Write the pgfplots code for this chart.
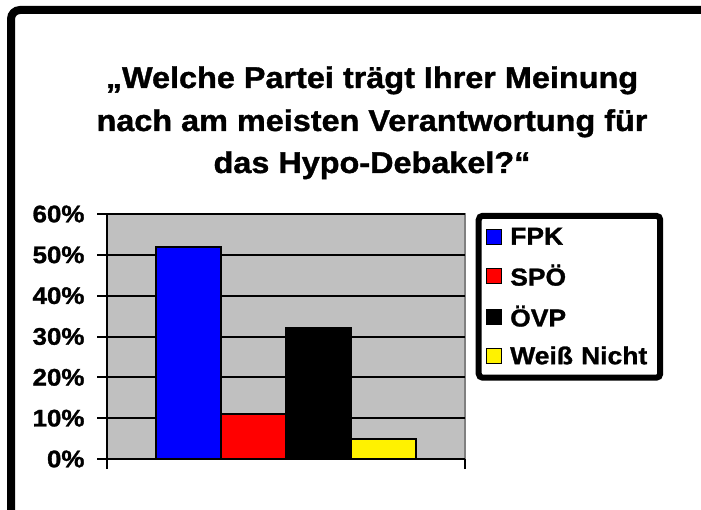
\documentclass[border=0pt]{standalone}
\usepackage{fontspec}
\setmainfont{Liberation Sans}[FakeStretch=1.08, BoldFeatures={FakeBold=1.2}]
\usepackage{pgfplots}
\pgfplotsset{compat=1.18}
\definecolor{plotbg}{RGB}{192,192,192}
\definecolor{plotedge}{RGB}{128,128,128}
\begin{document}
\begin{tikzpicture}[x=1pt,y=1pt]
\useasboundingbox (0,-510) rectangle (701,0);
\draw[line width=8pt, rounded corners=9pt] (11,-540) -- (11,-10) -- (730,-10);
\node[anchor=base, font=\fontsize{30}{36}\selectfont\bfseries] at (372,-88) {„Welche Partei trägt Ihrer Meinung};
\node[anchor=base, font=\fontsize{30}{36}\selectfont\bfseries] at (372,-131) {nach am meisten Verantwortung für};
\node[anchor=base, font=\fontsize{30}{36}\selectfont\bfseries] at (372,-173) {das Hypo-Debakel?“};
\begin{axis}[
  at={(107pt,-459pt)}, anchor=south west,
  scale only axis, width=358pt, height=245pt,
  xmin=-1.25, xmax=4.25, ymin=0, ymax=60,
  axis lines=left,
  axis line style={-, line width=2.5pt, black},
  every outer x axis line/.append style={-},
  every outer y axis line/.append style={-},
  axis background/.style={fill=plotbg, draw=plotedge, line width=1.5pt},
  ytick={0,10,...,60}, yticklabels={0\%,10\%,20\%,30\%,40\%,50\%,60\%},
  xtick={-1.25,4.25}, xticklabels={,},
  tick align=outside, major tick length=10pt,
  tick style={black, line width=2pt},
  ymajorgrids, grid style={black, line width=2pt},
  ticklabel style={font=\fontsize{24}{28}\selectfont\bfseries},
  yticklabel style={xshift=-9pt},
  ybar, bar width=1, bar shift=0pt,
  legend cell align=left,
  legend image code/.code={\draw[#1, line width=1.5pt, sharp corners] (0pt,-7.5pt) rectangle (15pt,7.5pt);},
  legend style={at={(1.03,1.005)}, anchor=north west, draw=black, line width=6pt,
    rounded corners=4pt, font=\fontsize{24.5}{28}\selectfont\bfseries,
    inner xsep=7pt, inner ysep=10pt, row sep=14.5pt,
    /tikz/every odd column/.append style={column sep=6pt},
    /tikz/every even column/.append style={text width=141pt}},
]
\addplot[fill=blue, draw=black, line width=2pt] coordinates {(0,52)};
\addplot[fill=red, draw=black, line width=2pt] coordinates {(1,11)};
\addplot[fill=black, draw=black, line width=2pt] coordinates {(2,32)};
\addplot[fill=yellow, draw=black, line width=2pt] coordinates {(3,5)};
\legend{FPK,SPÖ,ÖVP,Weiß Nicht}
\end{axis}
\end{tikzpicture}
\end{document}
